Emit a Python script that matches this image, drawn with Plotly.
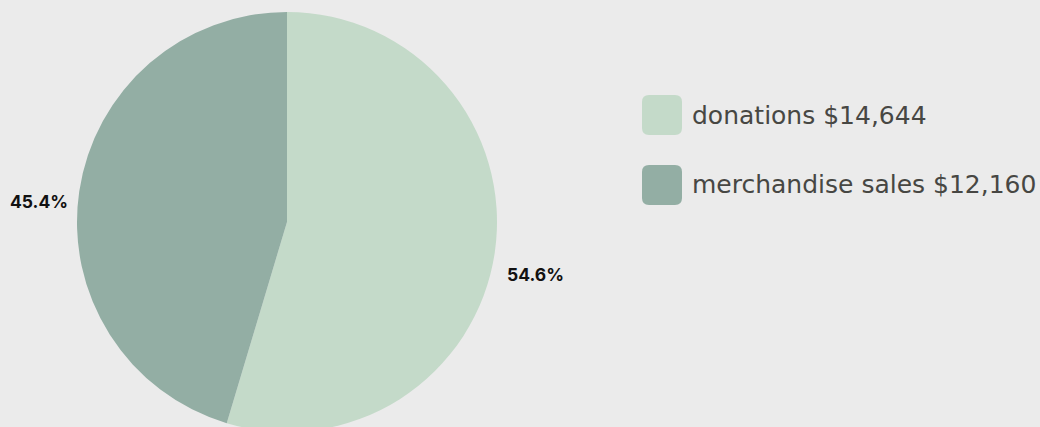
import math
import plotly.graph_objects as go

categories = ["donations", "merchandise sales"]
amounts = [14644, 12160]
colors = ["#c4dac9", "#93aea4"]

W, H = 1040, 440
BG = "#ebebeb"

# pie geometry in pixels
CX, CY, R = 287, 222, 210

fig = go.Figure()
fig.add_trace(go.Pie(
    labels=categories,
    values=amounts,
    marker=dict(colors=colors, line=dict(width=0)),
    sort=False,
    direction="clockwise",
    rotation=0,
    textinfo="none",
    domain=dict(x=[(CX - R) / W, (CX + R) / W], y=[1 - (CY + R) / H, 1 - (CY - R) / H]),
    hoverinfo="label+value+percent",
    showlegend=False,
))

def px_x(x):
    return x / W

def px_y(y):
    return 1 - y / H

def rrect(x0, y0, x1, y1, r):
    pts = [
        f"M {px_x(x0 + r)},{px_y(y0)}",
        f"L {px_x(x1 - r)},{px_y(y0)}",
        f"Q {px_x(x1)},{px_y(y0)} {px_x(x1)},{px_y(y0 + r)}",
        f"L {px_x(x1)},{px_y(y1 - r)}",
        f"Q {px_x(x1)},{px_y(y1)} {px_x(x1 - r)},{px_y(y1)}",
        f"L {px_x(x0 + r)},{px_y(y1)}",
        f"Q {px_x(x0)},{px_y(y1)} {px_x(x0)},{px_y(y1 - r)}",
        f"L {px_x(x0)},{px_y(y0 + r)}",
        f"Q {px_x(x0)},{px_y(y0)} {px_x(x0 + r)},{px_y(y0)}",
        "Z",
    ]
    return " ".join(pts)

shapes = []
annotations = []

# percentage labels outside each slice
total = sum(amounts)
cum = 0.0
LABEL_R, LABEL_DY = 251, 16
for amt in amounts:
    frac = amt / total
    mid = (cum + frac / 2) * 2 * math.pi
    cum += frac
    lx = CX + LABEL_R * math.sin(mid)
    ly = CY - LABEL_R * math.cos(mid) + LABEL_DY
    annotations.append(dict(
        x=px_x(lx), y=px_y(ly), xref="paper", yref="paper",
        xanchor="center", yanchor="middle", showarrow=False,
        text=f"<b>{frac * 100:.1f}%</b>",
        font=dict(family="Inter", size=17.5, color="#111111"),
    ))

# custom legend
legend_top = 95
legend_step = 70
for i, (cat, amt, col) in enumerate(zip(categories, amounts, colors)):
    y0 = legend_top + i * legend_step
    shapes.append(dict(type="path", xref="paper", yref="paper",
                       path=rrect(642, y0, 682, y0 + 40, 7),
                       fillcolor=col, line=dict(width=0)))
    annotations.append(dict(
        x=px_x(690), y=px_y(y0 + 20), xref="paper", yref="paper",
        xanchor="left", yanchor="middle", showarrow=False,
        text=f"{cat} ${amt:,}",
        font=dict(family="DejaVu Sans", size=25, color="#474743"),
    ))

fig.update_layout(
    width=W, height=H,
    margin=dict(l=0, r=0, t=0, b=0),
    paper_bgcolor=BG, plot_bgcolor=BG,
    shapes=shapes, annotations=annotations,
    showlegend=False,
)

fig.write_html("out.html",
               config={"displayModeBar": False},
               post_script="document.body.style.margin='0';document.body.style.overflow='hidden';document.documentElement.style.overflow='hidden';")
